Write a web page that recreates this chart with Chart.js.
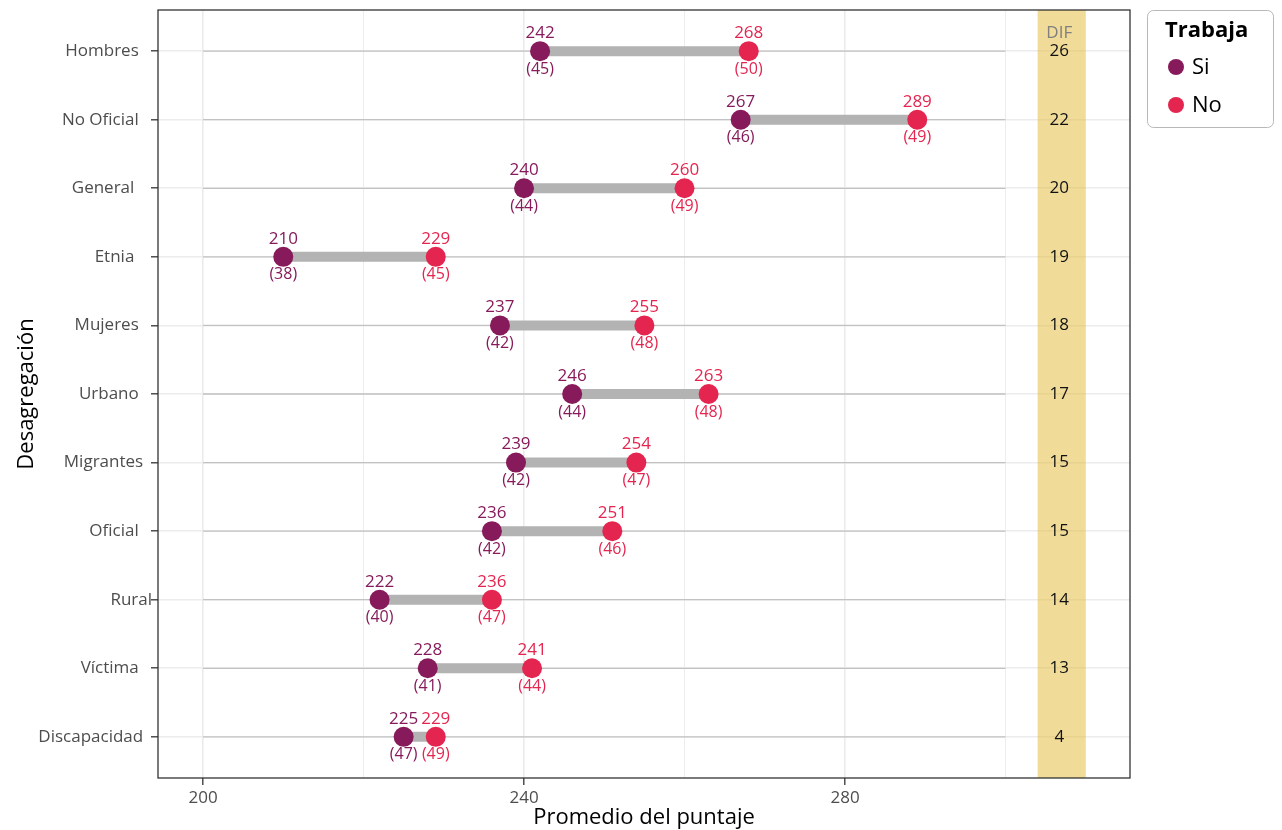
<!DOCTYPE html>
<html>
<head>
<meta charset="utf-8">
<script src="https://cdn.jsdelivr.net/npm/chart.js@4.4.1/dist/chart.umd.min.js"></script>
<style>
    html, body { margin: 0; padding: 0; background: #fff; }
</style>
</head>
<body>
<canvas id="grafico" width="1282" height="830"></canvas>
<script>
// datos (los espacios finales imitan la alineacion original de las etiquetas)
var categorias = ["Hombres   ", "No Oficial   ", "General    ", "Etnia    ", "Mujeres   ", "Urbano   ",
    "Migrantes  ", "Oficial   ", "Rural", "Víctima   ", "Discapacidad  "]
var puntajeSi = [242, 267, 240, 210, 237, 246, 239, 236, 222, 228, 225]
var puntajeNo = [268, 289, 260, 229, 255, 263, 254, 251, 236, 241, 229]
var nSi = [45, 46, 44, 38, 42, 44, 42, 42, 40, 41, 47]
var nNo = [50, 49, 49, 45, 48, 48, 47, 46, 47, 44, 49]
var diferencia = [26, 22, 20, 19, 18, 17, 15, 15, 14, 13, 4]
var marcasX = [200, 220, 240, 260, 280, 300]
var etiquetasX = [200, 240, 280]
var guiaInicio = 200
var guiaFin = 300
var bandaDif = [304, 310]
var posDif = 306.7
var tituloLeyenda = "Trabaja"
var nombresSerie = ["Si", "No"]

var colorSi = '#861a5a'
var colorNo = '#e4254f'
var fuente = '"Open Sans", "DejaVu Sans", sans-serif'

var puntosSi = []
var puntosNo = []
var tramos = []
var guias = []
for (let i = 0; i < categorias.length; i++) {
    puntosSi.push({ x: puntajeSi[i], y: i })
    puntosNo.push({ x: puntajeNo[i], y: i })
    tramos.push({ x: puntajeSi[i], y: i }, { x: puntajeNo[i], y: i }, { x: null, y: null })
    guias.push({ x: guiaInicio, y: i }, { x: guiaFin, y: i }, { x: null, y: null })
}

var banda = {
    id: 'banda',
    beforeDatasetsDraw(chart) {
        var ctx = chart.ctx
        var a = chart.chartArea
        var x1 = chart.scales.x.getPixelForValue(bandaDif[0])
        var x2 = chart.scales.x.getPixelForValue(bandaDif[1])
        ctx.save()
        ctx.fillStyle = 'rgba(225, 185, 49, 0.5)'
        ctx.fillRect(x1, a.top, x2 - x1, a.bottom - a.top)
        ctx.restore()
    }
}

var etiquetas = {
    id: 'etiquetas',
    afterDatasetsDraw(chart) {
        var ctx = chart.ctx
        var grupos = [
            { ds: 0, valores: puntajeSi, n: nSi, color: colorSi },
            { ds: 1, valores: puntajeNo, n: nNo, color: colorNo }
        ]
        ctx.save()
        ctx.textAlign = 'center'
        ctx.textBaseline = 'middle'
        grupos.forEach(function (g) {
            var meta = chart.getDatasetMeta(g.ds)
            ctx.fillStyle = g.color
            meta.data.forEach(function (p, i) {
                ctx.font = '17px ' + fuente
                ctx.fillText(g.valores[i], p.x, p.y - 18)
                ctx.font = '16px ' + fuente
                ctx.fillText('(' + g.n[i] + ')', p.x, p.y + 18)
            })
        })
        // columna DIF
        var xd = chart.scales.x.getPixelForValue(posDif)
        ctx.fillStyle = '#111'
        ctx.font = '17px ' + fuente
        diferencia.forEach(function (d, i) {
            ctx.fillText(d, xd, chart.scales.y.getPixelForValue(i))
        })
        ctx.fillStyle = '#808080'
        ctx.fillText('DIF', xd, chart.scales.y.getPixelForValue(-0.26))
        ctx.restore()
    }
}

var marcoYLeyenda = {
    id: 'marcoYLeyenda',
    afterDraw(chart) {
        var ctx = chart.ctx
        var a = chart.chartArea
        ctx.save()
        ctx.strokeStyle = '#333'
        ctx.lineWidth = 1.3
        ctx.strokeRect(a.left, a.top, a.right - a.left, a.bottom - a.top)

        var x0 = a.right + 17
        var y0 = a.top
        ctx.beginPath()
        ctx.roundRect(x0 + 0.5, y0 + 0.5, 126, 117, 6)
        ctx.strokeStyle = '#b8b8b8'
        ctx.lineWidth = 1
        ctx.stroke()
        ctx.fillStyle = '#000'
        ctx.textAlign = 'left'
        ctx.textBaseline = 'middle'
        ctx.font = 'bold 22px ' + fuente
        ctx.fillText(tituloLeyenda, x0 + 18, y0 + 21)
        var colores = [colorSi, colorNo]
        nombresSerie.forEach(function (nombre, k) {
            var yy = y0 + 57 + 38 * k
            ctx.beginPath()
            ctx.arc(x0 + 29, yy, 8, 0, Math.PI * 2)
            ctx.fillStyle = colores[k]
            ctx.fill()
            ctx.fillStyle = '#000'
            ctx.font = '22px ' + fuente
            ctx.fillText(nombre, x0 + 45, yy + 1)
        })
        ctx.restore()
    }
}

var ctx = document.getElementById('grafico').getContext('2d')
var myChart = new Chart(ctx, {
    type: 'scatter',
    data: {
        datasets: [
            { label: 'Si', data: puntosSi, backgroundColor: colorSi, pointRadius: 10, pointBorderWidth: 0, order: 0 },
            { label: 'No', data: puntosNo, backgroundColor: colorNo, pointRadius: 10, pointBorderWidth: 0, order: 1 },
            { type: 'line', data: tramos, borderColor: '#b3b3b3', borderWidth: 10, borderCapStyle: 'butt', pointRadius: 0, spanGaps: false, order: 2 },
            { type: 'line', data: guias, borderColor: '#c2c2c2', borderWidth: 1.3, pointRadius: 0, spanGaps: false, order: 3 }
        ]
    },
    options: {
        responsive: false,
        animation: false,
        events: [],
        layout: { padding: { top: 8, right: 152, left: 0, bottom: 0 } },
        plugins: {
            legend: { display: false },
            tooltip: { enabled: false }
        },
        scales: {
            x: {
                type: 'linear',
                min: 194.39,
                max: 315.51,
                afterBuildTicks: function (s) { s.ticks = marcasX.map(function (v) { return { value: v } }) },
                afterFit: function (s) { s.height = 52 },
                border: { display: false },
                grid: {
                    color: '#ebebeb',
                    lineWidth: function (c) { return etiquetasX.includes(c.tick.value) ? 1.6 : 0.9 },
                    tickLength: 7,
                    tickWidth: 1.3,
                    tickColor: function (c) { return etiquetasX.includes(c.tick.value) ? '#333' : 'rgba(0,0,0,0)' }
                },
                ticks: {
                    autoSkip: false,
                    maxRotation: 0,
                    padding: 3,
                    color: '#4d4d4d',
                    font: { family: fuente, size: 17 },
                    callback: function (v) { return etiquetasX.includes(v) ? v : '' }
                },
                title: {
                    display: true,
                    text: 'Promedio del puntaje',
                    color: '#000',
                    font: { family: fuente, size: 22 },
                    padding: { top: 0, bottom: -1 }
                }
            },
            y: {
                type: 'linear',
                reverse: true,
                min: -0.6,
                max: 10.6,
                afterBuildTicks: function (s) { s.ticks = categorias.map(function (c, i) { return { value: i } }) },
                afterFit: function (s) { s.width = 158 },
                border: { display: false },
                grid: {
                    color: '#ececec',
                    lineWidth: 1.6,
                    tickLength: 7,
                    tickWidth: 1.3,
                    tickColor: '#333'
                },
                ticks: {
                    autoSkip: false,
                    padding: -1,
                    color: '#4d4d4d',
                    font: { family: fuente, size: 17 },
                    callback: function (v) { return categorias[v] }
                },
                title: {
                    display: true,
                    text: 'Desagregación',
                    color: '#000',
                    font: { family: fuente, size: 22 },
                    padding: { top: 14, bottom: 0 }
                }
            }
        }
    },
    plugins: [banda, etiquetas, marcoYLeyenda]
})
</script>
</body>
</html>
